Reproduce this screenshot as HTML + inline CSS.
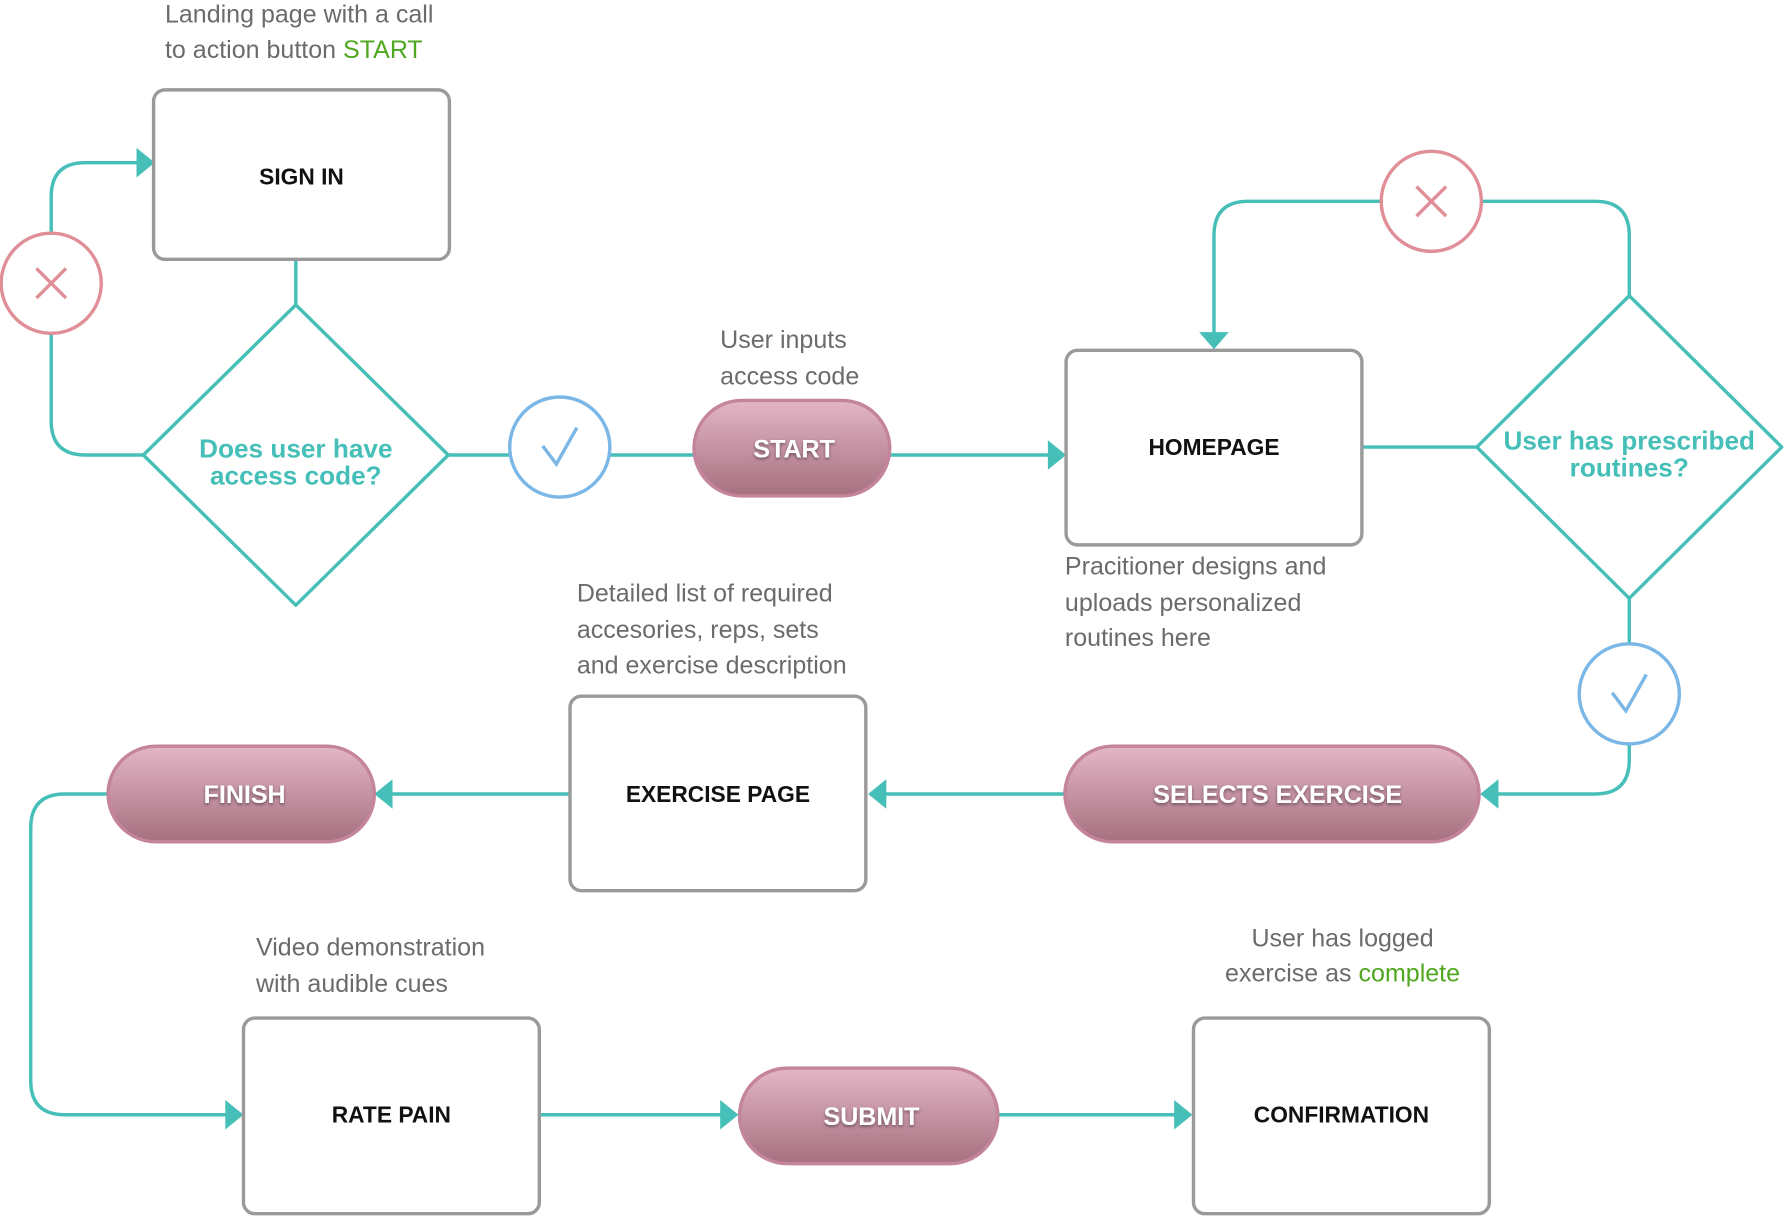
<!DOCTYPE html>
<html><head><meta charset="utf-8"><style>
html,body{margin:0;padding:0;background:#fff;}
svg{display:block;}
text{font-family:"Liberation Sans",sans-serif;}
.note{font-size:22px;fill:#6b6b6b;}
.box{fill:#fff;stroke:#9a9a9a;stroke-width:3;}
.bl{font-size:20px;font-weight:bold;fill:#111;text-anchor:middle;}
.ln{fill:none;stroke:#45bfb7;stroke-width:3;}
.ar{fill:#45bfb7;}
.dt{font-size:23px;font-weight:bold;fill:#45bfb7;text-anchor:middle;}
.pill{fill:url(#pg);stroke:#c4849a;stroke-width:3;}
.pt{font-size:22px;font-weight:bold;fill:#fff;text-anchor:middle;filter:url(#sh);}
.xc{fill:#fff;stroke:#e08f98;stroke-width:3;}
.xl{stroke:#e08f98;stroke-width:3;}
.cc{fill:#fff;stroke:#7ab7e6;stroke-width:3;}
.ck{fill:none;stroke:#7ab7e6;stroke-width:3;}
.g{fill:#4fa81f;}
</style></head><body>
<svg width="1784" height="1216" viewBox="0 0 1568 1069" preserveAspectRatio="none" xmlns="http://www.w3.org/2000/svg">
<defs>
<linearGradient id="pg" x1="0" y1="0" x2="0" y2="1"><stop offset="0" stop-color="#e3b6c6"/><stop offset="1" stop-color="#a6707f"/></linearGradient>
<filter id="sh"><feDropShadow dx="0" dy="1.5" stdDeviation="1.5" flood-color="#000" flood-opacity="0.45"/></filter>
</defs>

<!-- notes -->
<text class="note" x="145" y="20">Landing page with a call</text>
<text class="note" x="145" y="51">to action button <tspan class="g">START</tspan></text>
<text class="note" x="633" y="306">User inputs</text>
<text class="note" x="633" y="338">access code</text>
<text class="note" x="936" y="505">Pracitioner designs and</text>
<text class="note" x="936" y="537">uploads personalized</text>
<text class="note" x="936" y="568">routines here</text>
<text class="note" x="507" y="529">Detailed list of required</text>
<text class="note" x="507" y="561">accesories, reps, sets</text>
<text class="note" x="507" y="592">and exercise description</text>
<text class="note" x="225" y="840">Video demonstration</text>
<text class="note" x="225" y="872">with audible cues</text>
<text class="note" x="1180" y="832" text-anchor="middle">User has logged</text>
<text class="note" x="1180" y="863" text-anchor="middle">exercise as <tspan class="g">complete</tspan></text>

<!-- connectors -->
<path class="ln" d="M260,228 V268"/>
<path class="ln" d="M126,400 H75 Q45,400 45,370 V173 Q45,143 75,143 H122"/>
<polygon class="ar" points="120,130 136,143 120,156"/>
<path class="ln" d="M394,400 H448 M536,400 H610 M782,400 H922"/>
<polygon class="ar" points="921,387 937,400 921,413"/>
<path class="ln" d="M1197,393 H1299"/>
<path class="ln" d="M1432,260 V207 Q1432,177 1402,177 H1302 M1214,177 H1097 Q1067,177 1067,207 V293"/>
<polygon class="ar" points="1054,292 1080,292 1067,307"/>
<path class="ln" d="M1432,526 V566 M1432,654 V668 Q1432,698 1402,698 H1316"/>
<polygon class="ar" points="1317,685 1301,698 1317,711"/>
<path class="ln" d="M936,698 H778"/>
<polygon class="ar" points="779,685 763,698 779,711"/>
<path class="ln" d="M501,698 H344"/>
<polygon class="ar" points="345,685 329,698 345,711"/>
<path class="ln" d="M95,698 H57 Q27,698 27,728 V950 Q27,980 57,980 H200"/>
<polygon class="ar" points="198,967 214,980 198,993"/>
<path class="ln" d="M474,980 H635"/>
<polygon class="ar" points="633,967 649,980 633,993"/>
<path class="ln" d="M877,980 H1034"/>
<polygon class="ar" points="1032,967 1048,980 1032,993"/>

<!-- boxes -->
<rect class="box" x="135" y="79" width="260" height="149" rx="10"/>
<text class="bl" x="265" y="162">SIGN IN</text>
<rect class="box" x="937" y="308" width="260" height="171" rx="10"/>
<text class="bl" x="1067" y="400">HOMEPAGE</text>
<rect class="box" x="501" y="612" width="260" height="171" rx="10"/>
<text class="bl" x="631" y="705">EXERCISE PAGE</text>
<rect class="box" x="214" y="895" width="260" height="172" rx="10"/>
<text class="bl" x="344" y="987">RATE PAIN</text>
<rect class="box" x="1049" y="895" width="260" height="172" rx="10"/>
<text class="bl" x="1179" y="987">CONFIRMATION</text>

<!-- diamonds -->
<polygon class="ln" fill="#fff" points="260,268 394,400 260,532 126,400" stroke-linejoin="round"/>
<text class="dt" x="260" y="402">Does user have</text>
<text class="dt" x="260" y="426">access code?</text>
<polygon class="ln" fill="#fff" points="1432,260 1566,393 1432,526 1298,393" stroke-linejoin="round"/>
<text class="dt" x="1432" y="395">User has prescribed</text>
<text class="dt" x="1432" y="419">routines?</text>

<!-- X circles -->
<circle class="xc" cx="45" cy="249" r="44"/>
<path class="xl" d="M32,236 L58,262 M58,236 L32,262"/>
<circle class="xc" cx="1258" cy="177" r="44"/>
<path class="xl" d="M1245,164 L1271,190 M1271,164 L1245,190"/>

<!-- check circles -->
<circle class="cc" cx="492" cy="393" r="44"/>
<path class="ck" d="M477,392 L489,408 L507,376"/>
<circle class="cc" cx="1432" cy="610" r="44"/>
<path class="ck" d="M1417,609 L1429,625 L1447,593"/>

<!-- pills -->
<rect class="pill" x="610" y="352" width="172" height="84" rx="42"/>
<text class="pt" x="698" y="402">START</text>
<rect class="pill" x="936" y="656" width="364" height="84" rx="42"/>
<text class="pt" x="1123" y="706">SELECTS EXERCISE</text>
<rect class="pill" x="95" y="656" width="234" height="84" rx="42"/>
<text class="pt" x="215" y="706">FINISH</text>
<rect class="pill" x="650" y="939" width="227" height="84" rx="42"/>
<text class="pt" x="766" y="989">SUBMIT</text>
</svg>
</body></html>
